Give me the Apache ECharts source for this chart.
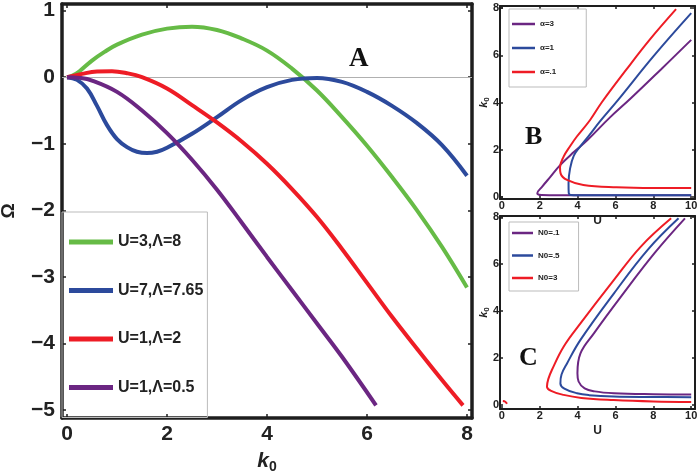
<!DOCTYPE html>
<html>
<head>
<meta charset="utf-8">
<script src="https://cdn.jsdelivr.net/npm/echarts@6/dist/echarts.min.js"></script>
<style>html,body{margin:0;padding:0;background:#fff}#c{width:697px;height:473px}</style>
</head>
<body>
<div id="c"></div>
<script>
// ---------- data ----------
const mainXTicks = [0, 2, 4, 6, 8];
const mainYTicks = [1, 0, -1, -2, -3, -4, -5];
const subXTicks = [0, 2, 4, 6, 8, 10];
const subYTicks = [0, 2, 4, 6, 8];

const mainNames = ['U=3,\u039b=8', 'U=7,\u039b=7.65', 'U=1,\u039b=2', 'U=1,\u039b=0.5'];
// [k0, Omega]
const greenA = [[0,0],[0.1,0.02],[0.25,0.09],[0.5,0.25],[0.75,0.38],[1,0.49],[1.5,0.64],[2,0.73],[2.5,0.76],[3,0.71],[3.5,0.58],[4,0.4],[4.5,0.13],[5,-0.2],[5.5,-0.6],[6,-1.03],[6.5,-1.5],[7,-2.0],[7.5,-2.55],[8,-3.16]];
const blueA = [[0,0],[0.2,-0.04],[0.4,-0.17],[0.6,-0.43],[0.8,-0.72],[1.0,-0.93],[1.2,-1.05],[1.4,-1.12],[1.6,-1.14],[1.8,-1.12],[2.0,-1.06],[2.5,-0.85],[3.0,-0.6],[3.5,-0.34],[4.0,-0.15],[4.5,-0.04],[5.0,-0.01],[5.5,-0.07],[6.0,-0.22],[6.5,-0.43],[7.0,-0.69],[7.5,-1.02],[8,-1.48]];
const redA = [[0,0],[0.3,0.05],[0.6,0.085],[0.9,0.09],[1.2,0.06],[1.5,0.0],[2.0,-0.17],[2.5,-0.42],[3.0,-0.68],[3.5,-0.97],[4.0,-1.3],[4.5,-1.68],[5.0,-2.1],[5.5,-2.58],[6.0,-3.09],[6.5,-3.6],[7.0,-4.08],[7.5,-4.55],[7.92,-4.93]];
const purpleA = [[0,0],[0.25,-0.01],[0.5,-0.05],[1.0,-0.22],[1.5,-0.5],[2.0,-0.84],[2.5,-1.24],[3.0,-1.69],[3.5,-2.19],[4.0,-2.7],[4.5,-3.2],[5.0,-3.7],[5.5,-4.2],[6.18,-4.93]];

const namesB = ['\u03b1=3', '\u03b1=1', '\u03b1=.1'];
// [U, k0]
const purpleB = [[10,0.07],[6,0.07],[3,0.07],[2.1,0.08],[1.87,0.16],[2.13,0.44],[2.57,0.86],[3.09,1.36],[3.8,1.9],[4.52,2.41],[5.71,3.37],[6.84,4.2],[8.4,5.4],[10,6.65]];
const blueB = [[10,0.07],[6,0.07],[4,0.07],[3.65,0.08],[3.53,0.18],[3.52,0.58],[3.6,1.2],[3.8,1.75],[4.15,2.15],[4.6,2.6],[5.18,3.2],[6.14,4.11],[8,5.95],[10,7.78]];
const redB = [[10,0.38],[8,0.38],[6.06,0.41],[4.3,0.51],[3.44,0.72],[3.1,1.0],[3.07,1.25],[3.26,1.71],[3.6,2.15],[3.96,2.56],[4.66,3.26],[5.27,4.0],[6.58,5.4],[7.8,6.65],[9.2,7.95]];

const namesC = ['N0=.1', 'N0=.5', 'N0=3'];
const purpleC = [[10,0.45],[8,0.46],[5.92,0.5],[4.9,0.58],[4.37,0.71],[4.05,1.0],[3.99,1.35],[4.15,2.2],[4.86,3.05],[6.28,4.6],[8.05,6.45],[9.67,7.94]];
const blueC = [[10,0.33],[8,0.34],[5.9,0.36],[4.6,0.42],[3.97,0.5],[3.3,0.7],[3.09,0.92],[3.15,1.3],[3.44,1.77],[4.15,2.77],[5.92,4.75],[7.7,6.6],[9.33,7.94]];
const redC = [[10,0.13],[8,0.15],[5.9,0.21],[4.2,0.3],[3.26,0.43],[2.6,0.6],[2.38,0.78],[2.45,1.1],[2.64,1.49],[3.26,2.48],[4.15,3.47],[5.92,5.32],[7.34,6.74],[8.94,7.94]];
const redCsmall = [[0.05,0.17],[0.18,0.14],[0.27,0.05]];

// ---------- styles ----------
const GREEN = '#66bb46', BLUE = '#2c4a9c', RED = '#ee1c25', PURPLE = '#6b2682';
const FR = '#1e1e1e';
const SANS = '"Liberation Sans", Arial, sans-serif';
const minus = v => String(v).replace('-', '\u2212');

function axis(opts) {
  const o = {
    type: 'value', gridIndex: opts.grid, position: opts.pos, min: opts.min, max: opts.max,
    splitLine: { show: false },
    axisLine: { show: true, onZero: false, lineStyle: { color: FR, width: opts.lw } },
    axisTick: { show: true, inside: true, length: opts.tl || 4, customValues: opts.ticks, lineStyle: { color: FR, width: opts.tw || 1.5 } },
    axisLabel: { show: !!opts.labels, customValues: opts.ticks, formatter: minus, color: '#222',
      fontFamily: SANS, fontWeight: 'bold', fontSize: opts.fs || 11, margin: opts.margin || 4 },
    nameMoveOverlap: false
  };
  if (opts.name) {
    o.name = opts.name; o.nameLocation = 'middle'; o.nameGap = opts.nameGap;
    o.nameRotate = opts.nameRotate || 0;
    o.nameTextStyle = opts.nameStyle;
  }
  return o;
}

const k0Style = (fs, sub) => ({
  rich: {
    k: { fontFamily: SANS, fontStyle: 'italic', fontWeight: 'bold', fontSize: fs, color: '#222', lineHeight: fs + 4 },
    s: { fontFamily: SANS, fontWeight: 'bold', fontSize: sub, color: '#222', verticalAlign: 'bottom', lineHeight: sub + 2 }
  }
});

function line(name, data, color, width, xi, yi, extra) {
  return Object.assign({
    type: 'line', name, data, xAxisIndex: xi, yAxisIndex: yi, smooth: 0.4,
    showSymbol: false, symbol: 'none', color, lineStyle: { color, width }, z: 3
  }, extra || {});
}

const option = {
  animation: false,
  backgroundColor: '#fff',
  grid: [
    { left: 62, top: 4, width: 410, height: 414, outerBoundsMode: 'none', containLabel: false },
    { left: 500, top: 6, width: 195, height: 193, outerBoundsMode: 'none', containLabel: false },
    { left: 500, top: 216, width: 195, height: 193, outerBoundsMode: 'none', containLabel: false }
  ],
  xAxis: [
    axis({ grid: 0, pos: 'bottom', min: -0.1, max: 8.1, lw: 3.5, ticks: mainXTicks, labels: true, fs: 21, margin: 6,
      name: '{k|k}{s|0}', nameGap: 31, nameStyle: k0Style(21, 14) }),
    axis({ grid: 0, pos: 'top', min: -0.1, max: 8.1, lw: 3.5, ticks: mainXTicks }),
    axis({ grid: 1, pos: 'bottom', min: -0.1, max: 10.2, lw: 2, tl: 3, ticks: subXTicks, labels: true, margin: 1,
      name: 'U', nameGap: 16, nameStyle: { fontFamily: SANS, fontWeight: 'bold', fontSize: 12, color: '#222' } }),
    axis({ grid: 1, pos: 'top', min: -0.1, max: 10.2, lw: 2, tl: 3, ticks: subXTicks }),
    axis({ grid: 2, pos: 'bottom', min: -0.1, max: 10.2, lw: 2, tl: 3, ticks: subXTicks, labels: true, margin: 1,
      name: 'U', nameGap: 16, nameStyle: { fontFamily: SANS, fontWeight: 'bold', fontSize: 12, color: '#222' } }),
    axis({ grid: 2, pos: 'top', min: -0.1, max: 10.2, lw: 2, tl: 3, ticks: subXTicks })
  ],
  yAxis: [
    axis({ grid: 0, pos: 'left', min: -5.12, max: 1.1, lw: 3.5, ticks: mainYTicks, labels: true, fs: 21, margin: 7,
      name: '\u03a9', nameGap: 44, nameRotate: 90, nameStyle: { fontFamily: SANS, fontWeight: 'bold', fontSize: 19, color: '#222' } }),
    axis({ grid: 0, pos: 'right', min: -5.12, max: 1.1, lw: 3.5, ticks: mainYTicks }),
    axis({ grid: 1, pos: 'left', min: -0.085, max: 8.085, lw: 2, tl: 3, ticks: subYTicks, labels: true, margin: 1,
      name: '{k|k}{s|0}', nameGap: 9, nameRotate: 90, nameStyle: k0Style(11, 8) }),
    axis({ grid: 1, pos: 'right', min: -0.085, max: 8.085, lw: 2, tl: 3, ticks: subYTicks }),
    axis({ grid: 2, pos: 'left', min: -0.17, max: 8.04, lw: 2, tl: 3, ticks: subYTicks, labels: true, margin: 1,
      name: '{k|k}{s|0}', nameGap: 9, nameRotate: 90, nameStyle: k0Style(11, 8) }),
    axis({ grid: 2, pos: 'right', min: -0.17, max: 8.04, lw: 2, tl: 3, ticks: subYTicks })
  ],
  legend: [
    { data: mainNames, orient: 'vertical', left: 62, top: 212, icon: 'rect', itemWidth: 44, itemHeight: 5,
      itemGap: 30.5, itemTextGap: 5, padding: [21, 4, 21, 7], borderColor: '#bbb', borderWidth: 1, borderRadius: 0,
      textStyle: { fontFamily: SANS, fontWeight: 'bold', fontSize: 16, color: '#222', lineHeight: 18 } },
    { data: namesB, orient: 'vertical', left: 509, top: 9, icon: 'rect', itemWidth: 23, itemHeight: 2.5,
      itemGap: 14, itemTextGap: 2, padding: [10, 30, 10, 3], borderColor: '#bbb', borderWidth: 1,
      textStyle: { fontFamily: SANS, fontWeight: 'bold', fontSize: 8, color: '#222', lineHeight: 10 } },
    { data: namesC, orient: 'vertical', left: 509, top: 222, icon: 'rect', itemWidth: 21, itemHeight: 2.5,
      itemGap: 12.5, itemTextGap: 3, padding: [6, 19, 8, 3], borderColor: '#bbb', borderWidth: 1,
      textStyle: { fontFamily: SANS, fontWeight: 'bold', fontSize: 8, color: '#222', lineHeight: 10 } }
  ],
  graphic: [
    { type: 'text', left: 349, top: 46, style: { text: 'A', font: 'bold 27px "Liberation Serif", serif', fill: '#111' } },
    { type: 'text', left: 525, top: 124, style: { text: 'B', font: 'bold 26px "Liberation Serif", serif', fill: '#111' } },
    { type: 'text', left: 519, top: 345, style: { text: 'C', font: 'bold 26px "Liberation Serif", serif', fill: '#111' } }
  ],
  series: [
    line(mainNames[0], greenA, GREEN, 4, 0, 0, {
      markLine: { silent: true, symbol: 'none', label: { show: false }, animation: false,
        lineStyle: { color: '#b0b0b0', width: 1, type: 'solid' }, data: [{ yAxis: 0 }], z: 1 } }),
    line(mainNames[1], blueA, BLUE, 4, 0, 0),
    line(mainNames[2], redA, RED, 4, 0, 0),
    line(mainNames[3], purpleA, PURPLE, 4, 0, 0),
    line(namesB[0], purpleB, PURPLE, 2, 2, 2),
    line(namesB[1], blueB, BLUE, 2, 2, 2),
    line(namesB[2], redB, RED, 2, 2, 2),
    line(namesC[0], purpleC, PURPLE, 2, 4, 4),
    line(namesC[1], blueC, BLUE, 2, 4, 4),
    line(namesC[2], redC, RED, 2, 4, 4),
    line(namesC[2], redCsmall, RED, 2, 4, 4)
  ]
};

const chart = echarts.init(document.getElementById('c'), null, { renderer: 'canvas' });
chart.setOption(option);
</script>
</body>
</html>
